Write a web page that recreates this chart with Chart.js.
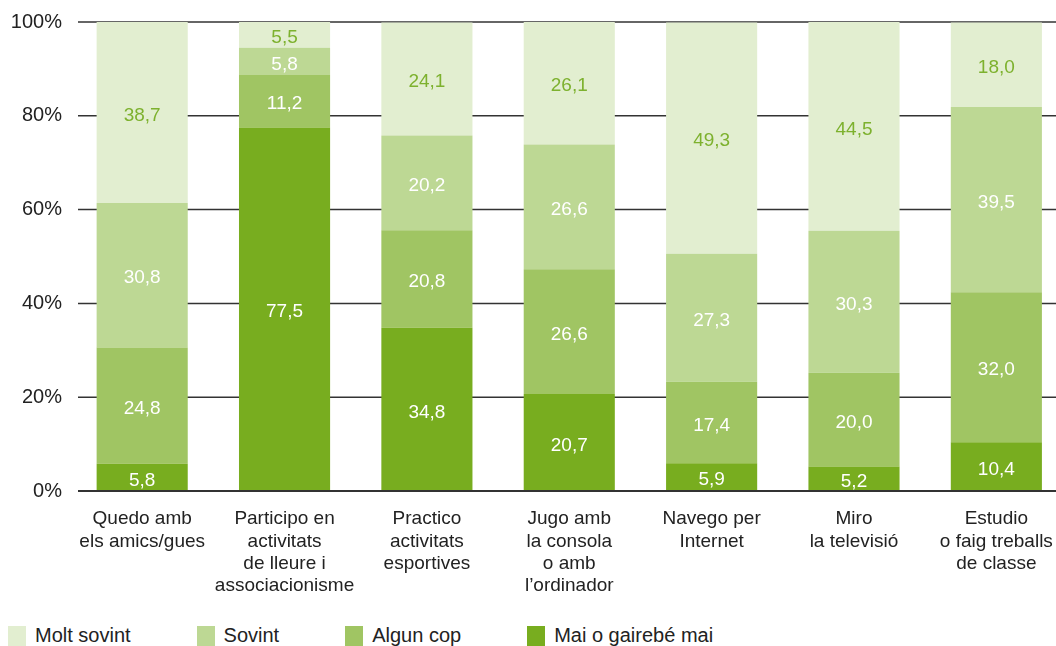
<!DOCTYPE html>
<html>
<head>
<meta charset="utf-8">
<script src="https://cdn.jsdelivr.net/npm/chart.js@4/dist/chart.umd.min.js"></script>
<style>
  body { margin: 0; background: #fff; overflow: hidden; width: 1056px; height: 646px; }
  #wrap { position: relative; width: 1070px; height: 610px; }
  #legend { position: absolute; left: 8px; top: 624px; display: flex; font: 20px "Liberation Sans", Arial, sans-serif; color: #222; }
  #legend .item { display: flex; align-items: center; margin-right: 66px; }
  #legend .box { width: 18px; height: 20px; margin-right: 9px; }
</style>
</head>
<body>
<div id="wrap"><canvas id="grafic" width="1070" height="610"></canvas></div>
<div id="legend"></div>
<script>
const categories = [
    ['Quedo amb', 'els amics/gues'],
    ['Participo en', 'activitats', 'de lleure i', 'associacionisme'],
    ['Practico', 'activitats', 'esportives'],
    ['Jugo amb', 'la consola', 'o amb', 'l\u2019ordinador'],
    ['Navego per', 'Internet'],
    ['Miro', 'la televisió'],
    ['Estudio', 'o faig treballs', 'de classe']
];
const maiGairebeMai = [5.8, 77.5, 34.8, 20.7, 5.9, 5.2, 10.4];
const algunCop      = [24.8, 11.2, 20.8, 26.6, 17.4, 20.0, 32.0];
const sovint        = [30.8, 5.8, 20.2, 26.6, 27.3, 30.3, 39.5];
const moltSovint    = [38.7, 5.5, 24.1, 26.1, 49.3, 44.5, 18.0];
const yTicks = [0, 20, 40, 60, 80, 100];

const series = [
    { label: 'Mai o gairebé mai', data: maiGairebeMai, color: '#78ad1f', text: '#ffffff' },
    { label: 'Algun cop', data: algunCop, color: '#a0c563', text: '#ffffff' },
    { label: 'Sovint', data: sovint, color: '#bdd894', text: '#ffffff' },
    { label: 'Molt sovint', data: moltSovint, color: '#e2eed0', text: '#7db12e' }
];

const FONT = '"Liberation Sans", Arial, sans-serif';

// llegenda en html, en l'ordre de la imatge
const legend = document.getElementById('legend');
series.slice().reverse().forEach(s => {
    const it = document.createElement('div');
    it.className = 'item';
    it.innerHTML = '<span class="box" style="background:' + s.color + '"></span><span>' + s.label + '</span>';
    legend.appendChild(it);
});

const linies = {
    id: 'linies',
    beforeDatasetsDraw(chart) {
        const ctx = chart.ctx, y = chart.scales.y;
        ctx.save();
        ctx.strokeStyle = '#333';
        ctx.lineWidth = 1.5;
        yTicks.forEach(t => {
            const py = y.getPixelForValue(t);
            ctx.beginPath();
            ctx.moveTo(78, py);
            ctx.lineTo(chart.width, py);
            ctx.stroke();
        });
        ctx.restore();
    },
    afterDatasetsDraw(chart) {
        const ctx = chart.ctx, y = chart.scales.y;
        ctx.save();
        ctx.strokeStyle = '#333';
        ctx.lineWidth = 2;
        const p0 = y.getPixelForValue(0);
        ctx.beginPath();
        ctx.moveTo(78, p0);
        ctx.lineTo(chart.width, p0);
        ctx.stroke();
        ctx.font = '19px ' + FONT;
        ctx.textAlign = 'center';
        ctx.textBaseline = 'middle';
        chart.data.datasets.forEach((ds, i) => {
            chart.getDatasetMeta(i).data.forEach((bar, j) => {
                const mid = (bar.y + bar.base) / 2;
                ctx.fillStyle = series[i].text;
                ctx.fillText(ds.data[j].toFixed(1).replace('.', ','), bar.x, mid + 3);
            });
        });
        ctx.restore();
    }
};

new Chart(document.getElementById('grafic'), {
    type: 'bar',
    data: {
        labels: categories,
        datasets: series.map(s => ({
            label: s.label,
            data: s.data,
            backgroundColor: s.color,
            borderWidth: 0,
            categoryPercentage: 1,
            barPercentage: 0.64
        }))
    },
    options: {
        responsive: false,
        animation: false,
        devicePixelRatio: 1,
        layout: { padding: { top: 22, right: 2, left: 1, bottom: 0 } },
        plugins: {
            legend: { display: false },
            tooltip: { enabled: false }
        },
        scales: {
            x: {
                stacked: true,
                grid: { display: false, drawTicks: false },
                border: { display: false },
                ticks: { color: '#222', padding: 17, font: { family: FONT, size: 19, lineHeight: 1.17 }, maxRotation: 0, autoSkip: false },
                afterFit(scale) { scale.height = 119; }
            },
            y: {
                stacked: true,
                min: 0,
                max: 100,
                grid: { display: false, drawTicks: false },
                border: { display: false },
                ticks: { stepSize: 20, color: '#222', padding: 9, font: { family: FONT, size: 20 }, callback: v => v + '%' },
                afterFit(scale) { scale.width = 70; }
            }
        }
    },
    plugins: [linies]
});
</script>
</body>
</html>
